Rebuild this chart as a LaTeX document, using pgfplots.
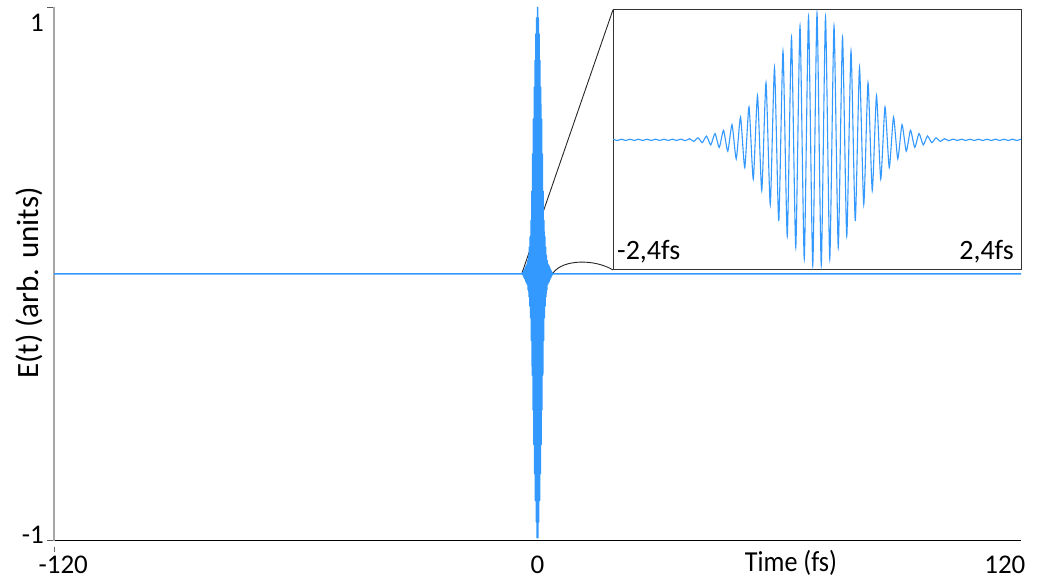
\documentclass[border=0pt]{standalone}
\usepackage{fontspec}
\setmainfont{Carlito}
\usepackage{pgfplots}
\usepackage{pgfplotstable}
\pgfplotsset{compat=1.18}

\definecolor{pulse}{HTML}{3399FF}
\definecolor{axisgray}{HTML}{A6A6A6}
\definecolor{baseline}{HTML}{D9D9D9}

% Field of the pulse on the full time axis (fs): one point per half cycle
\pgfplotstableread{
t E
-120 0
-4.0 0
-3.9 0
-3.8 0
-3.7 -0.002
-3.6 0.005
-3.5 -0.008
-3.4 0.011
-3.3 -0.014
-3.2 0.017
-3.1 -0.02
-3.0 0.025
-2.9 -0.028
-2.8 0.031
-2.7 -0.034
-2.6 0.037
-2.5 -0.04
-2.4 0.05
-2.3 -0.06
-2.2 0.07
-2.1 -0.085
-2.0 0.10
-1.9 -0.12
-1.8 0.14
-1.7 -0.165
-1.6 0.20
-1.5 -0.25
-1.4 0.31
-1.3 -0.38
-1.2 0.45
-1.1 -0.51
-1.0 0.58
-0.9 -0.64
-0.8 0.70
-0.7 -0.75
-0.6 0.80
-0.5 -0.85
-0.4 0.90
-0.3 -0.93
-0.2 0.96
-0.1 -0.99
0.0 1.00
0.1 -0.99
0.2 0.96
0.3 -0.93
0.4 0.90
0.5 -0.85
0.6 0.80
0.7 -0.75
0.8 0.70
0.9 -0.64
1.0 0.58
1.1 -0.51
1.2 0.45
1.3 -0.38
1.4 0.31
1.5 -0.25
1.6 0.20
1.7 -0.165
1.8 0.14
1.9 -0.12
2.0 0.10
2.1 -0.085
2.2 0.07
2.3 -0.06
2.4 0.05
2.5 -0.04
2.6 0.037
2.7 -0.034
2.8 0.031
2.9 -0.028
3.0 0.025
3.1 -0.02
3.2 0.017
3.3 -0.014
3.4 0.011
3.5 -0.008
3.6 0.005
3.7 -0.002
3.8 0
4.0 0
120 0
}\mainpulse

% Zoom on the central 4.8 fs of the pulse
\pgfplotstableread{
t E
-2.40 0.005
-2.35 -0.005
-2.30 0.005
-2.25 -0.005
-2.20 0.005
-2.15 -0.005
-2.10 0.005
-2.05 -0.005
-2.00 0.005
-1.95 -0.005
-1.90 0.005
-1.85 -0.005
-1.80 0.005
-1.75 -0.005
-1.70 0.005
-1.65 -0.005
-1.60 0.006
-1.55 -0.007
-1.50 0.009
-1.45 -0.012
-1.40 0.016
-1.35 -0.022
-1.30 0.03
-1.25 -0.04
-1.20 0.05
-1.15 -0.06
-1.10 0.075
-1.05 -0.09
-1.00 0.12
-0.95 -0.15
-0.90 0.18
-0.85 -0.22
-0.80 0.26
-0.75 -0.31
-0.70 0.35
-0.65 -0.40
-0.60 0.45
-0.55 -0.51
-0.50 0.57
-0.45 -0.64
-0.40 0.70
-0.35 -0.76
-0.30 0.81
-0.25 -0.85
-0.20 0.90
-0.15 -0.94
-0.10 0.97
-0.05 -0.99
0.00 1.00
0.05 -0.99
0.10 0.97
0.15 -0.94
0.20 0.90
0.25 -0.85
0.30 0.81
0.35 -0.76
0.40 0.70
0.45 -0.64
0.50 0.57
0.55 -0.51
0.60 0.45
0.65 -0.40
0.70 0.35
0.75 -0.31
0.80 0.26
0.85 -0.22
0.90 0.18
0.95 -0.15
1.00 0.12
1.05 -0.09
1.10 0.075
1.15 -0.06
1.20 0.05
1.25 -0.04
1.30 0.03
1.35 -0.022
1.40 0.016
1.45 -0.012
1.50 0.009
1.55 -0.007
1.60 0.006
1.65 -0.005
1.70 0.005
1.75 -0.005
1.80 0.005
1.85 -0.005
1.90 0.005
1.95 -0.005
2.00 0.005
2.05 -0.005
2.10 0.005
2.15 -0.005
2.20 0.005
2.25 -0.005
2.30 0.005
2.35 -0.005
2.40 0.005
}\zoompulse

\begin{document}
\begin{tikzpicture}[x=1pt,y=1pt]
% callout from the pulse to the zoom box
\draw[black!85, line width=0.9pt] (522,308) -- (613,571.3);
\draw[black!85, line width=0.9pt] (553,308) .. controls (563,322) and (595,322) .. (613,311);

\begin{axis}[
  at={(54pt,40.5pt)}, anchor=south west,
  scale only axis, width=967pt, height=533.2pt,
  xmin=-120, xmax=120, ymin=-1, ymax=1,
  axis lines=left,
  axis line style={-},
  x axis line style={baseline, line width=1pt},
  y axis line style={axisgray, line width=1.6pt},
  xtick={-117.7,0,116}, xticklabels={-120,0,120},
  xtick style={draw=none},
  xticklabel style={anchor=base, yshift=-26pt, inner sep=0pt},
  ytick={-1,1}, yticklabels={,},
  ytick style={black!65, line width=1pt},
  tick align=outside, major tick length=7pt,
  extra y ticks={0.94,-0.979}, extra y tick labels={1,-1},
  extra y tick style={major tick length=0pt},
  yticklabel style={anchor=east, inner sep=0pt, xshift=-10pt},
  tick label style={font=\fontsize{27}{32}\selectfont},
  clip=false,
]
\addplot[pulse, line width=1.5pt, line join=round] table[x=t,y=E] {\mainpulse};
\end{axis}

\begin{axis}[
  at={(613pt,311pt)}, anchor=south west,
  scale only axis, width=408pt, height=260.3pt,
  xmin=-2.4, xmax=2.4, ymin=-1.026, ymax=1.026,
  xtick=\empty, ytick=\empty,
  axis line style={black!80, line width=1pt},
  axis background/.style={fill=white},
]
\addplot[pulse, line width=1.1pt, smooth, tension=0.35] table[x=t,y=E] {\zoompulse};
\end{axis}

\node[anchor=base west, inner sep=0pt, font=\fontsize{28}{32}\selectfont] at (617,321) {-2,4fs};
\node[anchor=base east, inner sep=0pt, font=\fontsize{28}{32}\selectfont] at (1014,321) {2,4fs};
\node[rotate=90, font=\fontsize{31}{36}\selectfont] at (29,298) {E(t) (arb. units)};
\node[anchor=base, inner sep=0pt, xscale=0.9, transform shape, font=\fontsize{29}{34}\selectfont] at (791,10) {Time (fs)};
\draw[black!60, line width=1pt] (54,34.3) -- (54,29.3);

\pgfresetboundingbox
\path[use as bounding box] (0,0) rectangle (1043,581);
\end{tikzpicture}
\end{document}
